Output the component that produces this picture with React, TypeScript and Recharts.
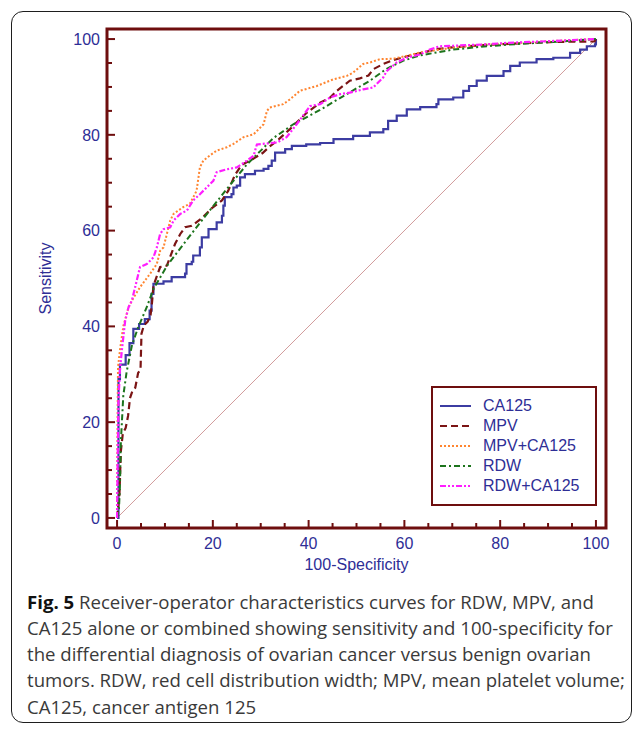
import { LineChart, Line, XAxis, YAxis, ReferenceArea, Legend } from "recharts";

// ROC points: [100-specificity, sensitivity]
const CA125 = [
  [0, 0], [0.3, 29], [0.6, 32], [1.8, 34], [2.6, 36.5], [3.4, 39.5], [4.6, 40.5],
  [5.8, 41.5], [6.8, 43.3], [7.2, 46.8], [7.6, 48.9], [9.7, 49.4], [11.4, 50.3],
  [14.2, 51], [14.5, 53], [15.6, 53.5], [15.9, 54.8], [17.3, 56.5], [17.7, 58.6],
  [19.1, 60.3], [20.8, 61.7], [21.9, 63.1], [22.2, 65.2], [22.5, 67], [23.9, 67.6],
  [24.3, 69], [25, 69.4], [25.7, 71.1], [26.7, 71.8], [28.8, 72.5], [30.6, 72.9],
  [31.6, 73.5], [32.3, 74.6], [33, 76.3], [35.1, 77], [36.5, 77.7], [39.5, 78],
  [42.4, 78.3], [45.2, 79.1], [49.3, 79.8], [52.8, 80.5], [55.6, 81.2], [56.6, 82.9],
  [58.4, 84], [60.5, 85.3], [63.3, 85.8], [66.7, 86.4], [67.1, 87.4], [70.2, 87.8],
  [72.3, 89.2], [73.5, 90.2], [75.1, 91.3], [77.2, 92.3], [80.7, 93.3], [82.1, 94.4],
  [84.1, 95.1], [87.6, 95.8], [91.1, 96.1], [94.6, 97.1], [96.7, 97.8], [98.1, 98.5],
  [99.8, 98.9], [100, 100],
];

const MPV = [
  [0, 0], [0.5, 5], [0.8, 14], [1.2, 17.6], [1.8, 18.8], [2.3, 21.3], [2.7, 25],
  [3.2, 26.5], [3.8, 27.2], [4.4, 30.3], [4.9, 31], [5.1, 38.5], [5.6, 40.2], [6.4, 41],
  [7, 42.4], [7.3, 45], [7.6, 48.5], [9, 52.4], [10.4, 52.7], [12.1, 57.2], [13.2, 59.3],
  [14.2, 60.7], [15.6, 61], [17.7, 62.6], [19.8, 64.7], [21.9, 66.3], [23.2, 68.3],
  [24.6, 71.6], [26, 73.7], [28.1, 74.8], [30.4, 76.2], [31.8, 77.5], [33.7, 79],
  [36.1, 81.2], [39.6, 84.6], [42.4, 86.7], [44.5, 87.8], [45.9, 89.2], [48.6, 91.3],
  [50.7, 91.8], [52.5, 92.4], [53.5, 93.7], [55.6, 94.8], [57.7, 95.6], [60.5, 96.4],
  [63.6, 97.1], [66.7, 97.9], [70.5, 98.3], [77.5, 98.8], [84.4, 99.1], [91.4, 99.4],
  [99.7, 99.5], [100, 100],
];

const MPV_CA125 = [
  [0, 0], [0.1, 20], [0.2, 31.5], [0.6, 35], [1.3, 40], [2.4, 44], [3.1, 45.4],
  [4.8, 48.2], [6.9, 51], [8.3, 53], [9, 55.8], [9.7, 56.5], [11.1, 62.1], [11.8, 63.5],
  [13.8, 64.9], [15.2, 65.6], [16.6, 68.3], [17.3, 73.2], [18, 74.6], [19.4, 75.7],
  [20.8, 76.7], [22.9, 77.4], [24.3, 78.1], [26.4, 79.5], [28.5, 80.1], [30.6, 82.2],
  [31.3, 85], [31.9, 85.7], [34.7, 86.4], [36.1, 87.4], [38.2, 89.2], [41.7, 90.2],
  [45.2, 91.6], [48, 92.3], [49.3, 93], [51.4, 94.8], [52.8, 95.1], [54.9, 95.8],
  [57.7, 95.9], [60.5, 96.5], [63.3, 97.2], [70.2, 98.2], [77.2, 98.9], [84.1, 99.2],
  [91.1, 99.6], [100, 100],
];

const RDW = [
  [0, 0], [0.4, 2], [0.6, 6.5], [0.8, 16], [1.3, 25.5], [2, 30.5], [3.1, 36],
  [4.4, 39.8], [6.2, 44], [7.6, 47.8], [10.4, 52.6], [13.2, 56.3], [15.9, 59.8],
  [18.7, 63.4], [21.5, 66.9], [24.3, 70.4], [27.1, 73.8], [29.9, 76.6], [32.6, 79.3],
  [36.8, 82.2], [42.4, 85.2], [45.9, 87.3], [49.3, 89.3], [52.8, 91.3], [56.3, 93.8],
  [59.8, 95.5], [63.3, 96.6], [70.2, 97.8], [77.2, 98.5], [84.1, 99], [91.1, 99.4],
  [100, 100],
];

const RDW_CA125 = [
  [0, 0], [0.1, 10.7], [0.3, 24.6], [0.6, 30.8], [1, 35], [1.7, 41.2], [2.4, 44],
  [3.1, 45.4], [4.8, 52.4], [6.2, 53], [7.6, 54.4], [8.3, 56.5], [9, 59.3], [9.7, 60.3],
  [11.1, 60.7], [11.8, 62.1], [13.2, 63.5], [14.6, 64.2], [15.9, 66.3], [17.3, 67.6],
  [18.7, 69], [20.1, 70.4], [20.8, 72.2], [22.9, 72.8], [25, 73.2], [27.1, 74.6],
  [28.5, 75.6], [29.2, 78], [33.4, 78.4], [35.4, 79.5], [37.5, 82.2], [40.3, 86],
  [42.4, 86.4], [44.5, 87.8], [46.6, 88.5], [48.6, 88.8], [51.4, 89.5], [53.5, 89.9],
  [55.6, 92], [56.3, 93.3], [58.4, 95.1], [60.5, 96.1], [63.3, 96.8], [65.3, 97.8],
  [67.4, 98.5], [70.2, 98.6], [77.2, 98.9], [81.4, 99.2], [91.1, 99.6], [100, 100],
];

const CHANCE = [[0, 0], [100, 100]];

const TICKS = [0, 5, 10, 15, 20, 25, 30, 35, 40, 45, 50, 55, 60, 65, 70, 75, 80, 85, 90, 95, 100];
const DOMAIN: [number, number] = [-2.1, 102.1];

const FRAME = "#6e0e0e";
const INK = "#2e2e96";
const FONT = '"Liberation Sans", Arial, sans-serif';

const STYLES: Record<string, { color: string; dash?: string; width: number }> = {
  CA125: { color: "#3c3ca2", width: 2.2 },
  MPV: { color: "#7b1414", dash: "7 4", width: 2.2 },
  "MPV+CA125": { color: "#ff8530", dash: "2 2", width: 2 },
  RDW: { color: "#1c741c", dash: "6 3 2 3", width: 2 },
  "RDW+CA125": { color: "#ff1eff", dash: "6 2 2 2 2 2", width: 2.2 },
};

const pts = (arr: number[][]) => arr.map(([x, y]) => ({ x, y }));

const TICK_GAP_X = 10;
const TICK_GAP_Y = 7;

const XTick = ({ x, y, payload }: any) => {
  const major = payload.value % 20 === 0;
  const axisY = y - TICK_GAP_X;
  return (
    <g>
      <line x1={x} x2={x} y1={axisY} y2={axisY - (major ? 8 : 5)} stroke={FRAME} strokeWidth={2} />
      {major && (
        <text x={x} y={y} dy="0.71em" textAnchor="middle" fill={INK} fontSize={16} fontFamily={FONT}>
          {payload.value}
        </text>
      )}
    </g>
  );
};

const YTick = ({ x, y, payload }: any) => {
  const major = payload.value % 20 === 0;
  const axisX = x + TICK_GAP_Y;
  return (
    <g>
      <line x1={axisX} x2={axisX + (major ? 8 : 5)} y1={y} y2={y} stroke={FRAME} strokeWidth={2} />
      {major && (
        <text x={x} y={y} dy="0.355em" textAnchor="end" fill={INK} fontSize={16} fontFamily={FONT}>
          {payload.value}
        </text>
      )}
    </g>
  );
};

const renderLegend = ({ payload }: any) => (
  <div
    style={{
      border: `2px solid ${FRAME}`,
      boxSizing: "border-box",
      width: 166,
      height: 120,
      padding: "8px 0 0 7px",
      fontFamily: FONT,
      fontSize: 16,
      color: INK,
      background: "#fff",
    }}
  >
    {(payload || []).map((entry: any) => {
      const s = STYLES[entry.value];
      if (!s) return null;
      return (
        <div key={entry.value} style={{ height: 20, display: "flex", alignItems: "center" }}>
          <svg width={31} height={4} style={{ marginRight: 12 }}>
            <line x1={0} y1={2} x2={31} y2={2} stroke={s.color} strokeWidth={2} strokeDasharray={s.dash} />
          </svg>
          <span>{entry.value}</span>
        </div>
      );
    })}
  </div>
);

export default function App() {
  const series: [string, number[][]][] = [
    ["CA125", CA125],
    ["MPV", MPV],
    ["MPV+CA125", MPV_CA125],
    ["RDW", RDW],
    ["RDW+CA125", RDW_CA125],
  ];

  return (
    <div style={{ position: "absolute", left: 0, top: 0, width: 635, height: 729, background: "#fff" }}>
      <div
        style={{
          position: "absolute",
          left: 11,
          top: 11,
          width: 621,
          height: 712,
          boxSizing: "border-box",
          border: "1.5px solid #1e1e1e",
          borderRadius: 12,
        }}
      />
      <div style={{ position: "absolute", left: 0, top: 0 }}>
        <LineChart
          width={635}
          height={600}
          margin={{ top: 29, right: 29, bottom: 22, left: 47 }}
          style={{ fontFamily: FONT }}
        >
          <XAxis
            type="number"
            dataKey="x"
            domain={DOMAIN}
            ticks={TICKS}
            allowDataOverflow
            height={50}
            axisLine={false}
            tickLine={false}
            tickSize={0}
            tickMargin={TICK_GAP_X}
            tick={<XTick />}
            interval={0}
            label={{
              content: ({ viewBox }: any) => (
                <text
                  x={viewBox.x + viewBox.width / 2}
                  y={viewBox.y + 42}
                  textAnchor="middle"
                  fill={INK}
                  fontSize={16}
                  fontFamily={FONT}
                >
                  100-Specificity
                </text>
              ),
            }}
          />
          <YAxis
            type="number"
            dataKey="y"
            domain={DOMAIN}
            ticks={TICKS}
            allowDataOverflow
            width={60}
            axisLine={false}
            tickLine={false}
            tickSize={0}
            tickMargin={TICK_GAP_Y}
            tick={<YTick />}
            interval={0}
            label={{
              content: ({ viewBox }: any) => {
                const cx = viewBox.x - 2;
                const cy = viewBox.y + viewBox.height / 2;
                return (
                  <text
                    x={cx}
                    y={cy}
                    dy="0.35em"
                    transform={`rotate(-90 ${cx} ${cy})`}
                    textAnchor="middle"
                    fill={INK}
                    fontSize={16}
                    fontFamily={FONT}
                  >
                    Sensitivity
                  </text>
                );
              },
            }}
          />
          <ReferenceArea
            x1={DOMAIN[0]}
            x2={DOMAIN[1]}
            y1={DOMAIN[0]}
            y2={DOMAIN[1]}
            fill="none"
            stroke={FRAME}
            strokeWidth={3}
          />
          <Line
            data={pts(CHANCE)}
            dataKey="y"
            name="chance"
            stroke="#d29c9c"
            strokeWidth={1}
            dot={false}
            legendType="none"
            isAnimationActive={false}
          />
          {series.map(([name, arr]) => {
            const s = STYLES[name];
            return (
              <Line
                key={name}
                data={pts(arr)}
                dataKey="y"
                name={name}
                type={name === "CA125" ? "stepAfter" : "linear"}
                stroke={s.color}
                strokeWidth={s.width}
                strokeDasharray={s.dash}
                dot={false}
                isAnimationActive={false}
              />
            );
          })}
          <Legend
            layout="vertical"
            align="center"
            verticalAlign="middle"
            wrapperStyle={{ left: 431, top: 386, width: 166 }}
            content={renderLegend}
          />
        </LineChart>
      </div>
      <div
        style={{
          position: "absolute",
          left: 27,
          top: 588.6,
          fontFamily: '"Open Sans", sans-serif',
          fontSize: 18.6,
          lineHeight: "26.3px",
          color: "#3a3a3a",
          whiteSpace: "nowrap",
        }}
      >
        <div>
          <b style={{ color: "#111" }}>Fig. 5</b> Receiver-operator characteristics curves for RDW, MPV, and
        </div>
        <div>CA125 alone or combined showing sensitivity and 100-specificity for</div>
        <div>the differential diagnosis of ovarian cancer versus benign ovarian</div>
        <div>tumors. RDW, red cell distribution width; MPV, mean platelet volume;</div>
        <div>CA125, cancer antigen 125</div>
      </div>
    </div>
  );
}
